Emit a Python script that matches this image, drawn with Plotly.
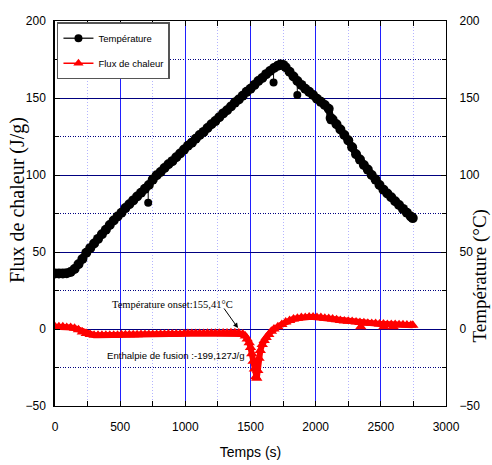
import plotly.graph_objects as go

# ---------------- data ----------------
temp_time = [0, 30, 60, 90, 120, 150, 180, 210, 240, 270, 300, 330, 360, 390, 420, 450, 480,
             510, 540, 570, 600, 630, 660, 690, 720, 750, 780, 810, 840, 870, 900, 930,
             960, 990, 1020, 1050, 1080, 1110, 1140, 1170, 1200, 1230, 1260, 1290, 1320, 1350,
             1380, 1410, 1440, 1470, 1500, 1530, 1560, 1590, 1620, 1650, 1680, 1710, 1730, 1750,
             1770, 1800, 1830, 1860, 1890, 1920, 1950, 1980, 2010, 2040, 2070, 2100, 2115,
             2130, 2160, 2190, 2220, 2250, 2280, 2310, 2340, 2370, 2400, 2430, 2460, 2490, 2520,
             2550, 2580, 2610, 2640, 2670, 2700, 2730, 2745]
temp_values = [36, 36, 36, 36.2, 37, 39, 42, 45.5, 49.5, 52.5, 55.5, 58.5, 61.5, 64.5, 67.5, 70.5, 73,
               75.5, 78.5, 81, 83.5, 86, 88.5, 91, 93.5, 97, 99.8, 102, 104.5, 107, 109, 111.5,
               114, 116.5, 119, 121, 123.5, 126, 128, 130.5, 133, 135, 137.5, 140, 142, 144.5,
               147, 149, 151.5, 154, 156, 158.5, 161, 163, 165.5, 167.5, 169.5, 171, 171.8, 171.5,
               170, 167, 164, 161, 158.5, 156, 154, 152, 149.5, 147.5, 145.5, 143, 137,
               136, 133, 129.5, 126, 122.5, 118, 113.5, 110, 106.5, 103.5, 100, 97, 93.5, 90.5,
               88, 85.5, 83, 80.5, 78, 75.5, 73, 72]

# isolated temperature readings below the curve (time, value, curve value at that time)
temp_out_time = [715, 1677, 1859, 2115]
temp_out_values = [82, 160, 152, 135.5]
temp_out_curve = [93, 169.5, 161, 142]

flux_time = [0, 30, 60, 90, 120, 150, 180, 210, 240, 270, 300, 330, 360, 390, 420, 450, 480,
             510, 540, 570, 600, 630, 660, 690, 720, 750, 780, 810, 840, 870, 900, 930, 960,
             990, 1020, 1050, 1080, 1110, 1140, 1170, 1200, 1230, 1260, 1290, 1320, 1350, 1380,
             1410, 1440, 1460, 1475, 1490, 1500, 1510, 1520, 1530, 1540, 1548, 1556, 1565, 1575,
             1590, 1605, 1620, 1640, 1660, 1680, 1710, 1740, 1770, 1800, 1830, 1860, 1890, 1920,
             1950, 1980, 2010, 2040, 2070, 2100, 2130, 2160, 2190, 2220, 2250, 2280, 2310, 2340,
             2370, 2400, 2430, 2460, 2490, 2520, 2550, 2580, 2610, 2640, 2670,
             2700, 2730, 2745]
flux_values = [1.5, 1.5, 1.5, 1, 1, 0.5, -0.5, -2, -3, -3.5, -4, -4, -4, -4, -4, -4, -4,
               -3.8, -3.8, -3.8, -3.7, -3.7, -3.6, -3.6, -3.5, -3.5, -3.5, -3.4, -3.4, -3.3, -3.3, -3.2, -3.2,
               -3.1, -3, -3, -3, -2.9, -2.9, -2.8, -2.8, -2.7, -2.7, -2.6, -2.6, -2.5, -2.5,
               -2.6, -3.2, -4.5, -6.5, -9, -12, -16, -21, -26, -31, -32, -27, -19, -14,
               -10, -7.5, -5.5, -3.5, -1.5, 0, 1.5, 3, 4.5, 5.5, 6.5, 7, 7.5, 7.5,
               7.8, 7.8, 7.5, 7.5, 7, 6.8, 6.5, 6, 5.5, 5.2, 5, 4.8, 4.5, 4.2,
               4, 3.8, 3.5, 3.5, 3.3, 3.2, 3, 3, 3, 2.8, 2.8,
               2.6, 2.5, 2.5]

# isolated low flux readings (time, value)
flux_out_time = [2346, 2523, 2595]
flux_out_values = [1.5, 1.5, 1.5]

x_ticks = [0, 500, 1000, 1500, 2000, 2500, 3000]
y_ticks = [-50, 0, 50, 100, 150, 200]

series_names = ["Température", "Flux de chaleur"]
x_title = "Temps (s)"
y_left_title = "Flux de chaleur (J/g)"
y_right_title = "Température (°C)"
onset_text = "Température onset:155,41°C"
enthalpy_text = "Enthalpie de fusion :-199,127J/g"

SANS = "Liberation Sans, Arial, sans-serif"
SERIF = "Liberation Serif, Times New Roman, serif"

fig = go.Figure()

# flux: thick band + triangles
fig.add_trace(go.Scatter(
    x=flux_time, y=flux_values, mode="lines+markers", showlegend=False,
    line=dict(color="#ff0000", width=6),
    marker=dict(symbol="triangle-up", size=10, color="#ff0000"),
    yaxis="y"))
fig.add_trace(go.Scatter(
    x=flux_out_time, y=flux_out_values, mode="markers", showlegend=False,
    marker=dict(symbol="triangle-up", size=10, color="#ff0000"),
    yaxis="y"))

# temperature: thick band + circles
fig.add_trace(go.Scatter(
    x=temp_time, y=temp_values, mode="lines+markers", showlegend=False,
    line=dict(color="#000000", width=7, shape="spline", smoothing=0.6),
    marker=dict(symbol="circle", size=10, color="#000000"),
    yaxis="y2"))
# outlier stems (thin) built from the outlier arrays
stem_x, stem_y = [], []
for t, v, c in zip(temp_out_time, temp_out_values, temp_out_curve):
    stem_x += [t, t, None]
    stem_y += [c, v, None]
fig.add_trace(go.Scatter(
    x=stem_x, y=stem_y, mode="lines", showlegend=False,
    line=dict(color="#000000", width=1), yaxis="y2"))
fig.add_trace(go.Scatter(
    x=temp_out_time, y=temp_out_values, mode="markers", showlegend=False,
    marker=dict(symbol="circle", size=8, color="#000000"), yaxis="y2"))

# legend entries
fig.add_trace(go.Scatter(
    x=[None], y=[None], mode="lines+markers", name=series_names[0], legendgroup="a",
    line=dict(color="#333333", width=1.5),
    marker=dict(symbol="circle", size=8, color="#000000")))
fig.add_trace(go.Scatter(
    x=[None], y=[None], mode="lines+markers", name=series_names[1], legendgroup="b",
    line=dict(color="#ff0000", width=1.5),
    marker=dict(symbol="triangle-up", size=9, color="#ff0000")))

fig.update_layout(
    width=492, height=465,
    margin=dict(l=55, r=46, t=21, b=59),
    paper_bgcolor="white", plot_bgcolor="white",
    font=dict(family=SANS, size=12, color="black"),
    legend=dict(x=0.005, y=0.997, xanchor="left", yanchor="top",
                bgcolor="white", bordercolor="#555555", borderwidth=1.5,
                font=dict(family=SANS, size=9.5, color="black"),
                tracegroupgap=6, itemwidth=30),
    xaxis=dict(range=[0, 3000], tickvals=x_ticks, showgrid=True, automargin=False,
               gridcolor="#2020ff", gridwidth=1, zeroline=False,
               showline=True, linecolor="black", linewidth=1.2, mirror="allticks",
               ticks="inside", ticklen=5, tickcolor="black",
               ticklabelstandoff=9,
               minor=dict(dtick=250, showgrid=True, gridcolor="#b4b4ff", griddash="1px,2px",
                          gridwidth=1, ticks="inside", ticklen=5, tickcolor="black"),
               title=dict(text=x_title, font=dict(family=SANS, size=14), standoff=14)),
    yaxis=dict(range=[-50, 200], tickvals=y_ticks, showgrid=True, automargin=False,
               gridcolor="#000080", gridwidth=1.2, zeroline=False,
               showline=True, linecolor="black", linewidth=1.5,
               ticks="inside", ticklen=5, tickcolor="black",
               ticklabelstandoff=5,
               minor=dict(dtick=25, showgrid=True, gridcolor="#000080", griddash="1px,1.5px",
                          gridwidth=1.2, ticks="inside", ticklen=4, tickcolor="black")),
    yaxis2=dict(range=[-50, 200], tickvals=y_ticks, overlaying="y", side="right",
                showgrid=False, zeroline=False, automargin=False,
                showline=True, linecolor="black", linewidth=1.2,
                ticks="inside", ticklen=5, tickcolor="black",
                ticklabelstandoff=10,
                minor=dict(dtick=25, ticks="inside", ticklen=4, tickcolor="black")),
)

# vertical axis titles as paper annotations
fig.add_annotation(x=-0.097, y=0.535, xref="paper", yref="paper", text=y_left_title,
                   textangle=-90, showarrow=False, xanchor="center", yanchor="middle",
                   font=dict(family=SERIF, size=20, color="black"))
fig.add_annotation(x=1.086, y=0.338, xref="paper", yref="paper", text=y_right_title,
                   textangle=-90, showarrow=False, xanchor="center", yanchor="middle",
                   font=dict(family=SERIF, size=19, color="black"))

fig.add_annotation(x=420, y=16, xref="x", yref="y", text=onset_text, showarrow=False,
                   xanchor="left", yanchor="middle",
                   font=dict(family=SERIF, size=10.5, color="black"))
fig.add_annotation(x=1404, y=0.6, xref="x", yref="y", ax=1289, ay=14.3,
                   axref="x", ayref="y", text="", showarrow=True,
                   arrowhead=2, arrowsize=1, arrowwidth=1, arrowcolor="black")
fig.add_annotation(x=380, y=-17.5, xref="x", yref="y", text=enthalpy_text, showarrow=False,
                   xanchor="left", yanchor="middle",
                   font=dict(family=SANS, size=9.6, color="black"))

fig.write_html("out.html")
